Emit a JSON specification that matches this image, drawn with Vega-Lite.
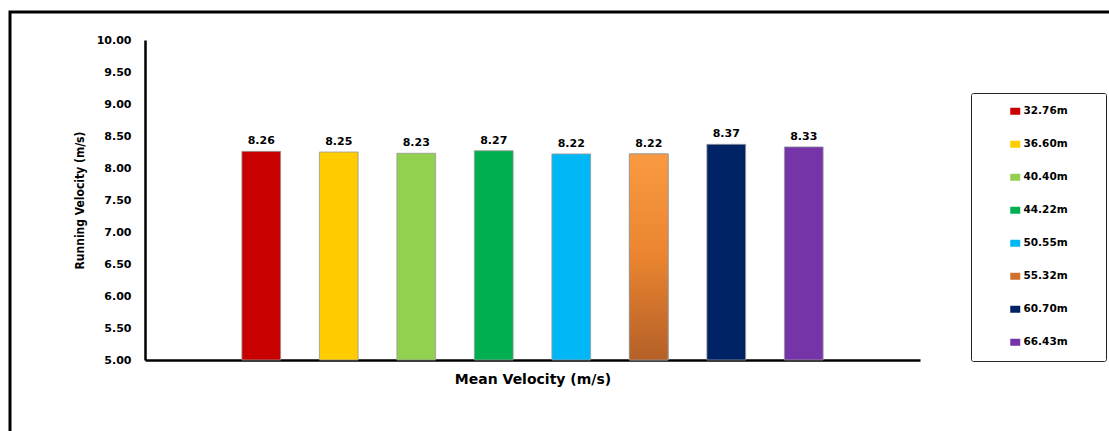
{
  "$schema": "https://vega.github.io/schema/vega-lite/v6.json",
  "width": 1105,
  "height": 425,
  "autosize": {"type": "none"},
  "padding": {"left": 10, "top": 12, "right": -6, "bottom": -6},
  "background": "white",
  "config": {
    "view": {"stroke": "black", "strokeWidth": 3},
    "font": "DejaVu Sans"
  },
  "data": {
    "values": [
      {"series": "32.76m", "velocity": 8.26},
      {"series": "36.60m", "velocity": 8.25},
      {"series": "40.40m", "velocity": 8.23},
      {"series": "44.22m", "velocity": 8.27},
      {"series": "50.55m", "velocity": 8.22},
      {"series": "55.32m", "velocity": 8.22},
      {"series": "60.70m", "velocity": 8.37},
      {"series": "66.43m", "velocity": 8.33}
    ]
  },
  "encoding": {
    "x": {
      "field": "series",
      "type": "nominal",
      "sort": null,
      "scale": {
        "domain": ["_start", "32.76m", "36.60m", "40.40m", "44.22m", "50.55m", "55.32m", "60.70m", "66.43m", "_end"],
        "range": [135, 910],
        "paddingInner": 0.5,
        "paddingOuter": 0.25
      },
      "axis": {
        "title": "Mean Velocity (m/s)",
        "labels": false,
        "ticks": false,
        "domainColor": "black",
        "domainWidth": 2.5,
        "offset": -77,
        "titleFont": "DejaVu Sans",
        "titleFontSize": 14,
        "titleFontWeight": "bold",
        "titleColor": "black",
        "titlePadding": 12
      }
    },
    "y": {
      "field": "velocity",
      "type": "quantitative",
      "scale": {"domain": [5, 10], "range": [348, 28], "zero": false, "nice": false},
      "axis": {
        "title": "Running Velocity (m/s)",
        "values": [5, 5.5, 6, 6.5, 7, 7.5, 8, 8.5, 9, 9.5, 10],
        "format": ".2f",
        "grid": false,
        "ticks": false,
        "domainColor": "black",
        "domainWidth": 2.5,
        "offset": -135,
        "labelPadding": 14,
        "labelFont": "DejaVu Sans",
        "labelFontSize": 11,
        "labelFontWeight": "bold",
        "labelColor": "black",
        "titleFont": "Liberation Sans Narrow, DejaVu Sans Condensed",
        "titleFontSize": 12,
        "titleFontWeight": "bold",
        "titleColor": "black",
        "titlePadding": 10
      }
    }
  },
  "layer": [
    {
      "mark": {"type": "bar", "stroke": "#999999", "strokeWidth": 1, "strokeOpacity": 0.8},
      "encoding": {
        "y2": {"datum": 5},
        "color": {
          "field": "series",
          "type": "nominal",
          "sort": null,
          "scale": {
            "domain": ["32.76m", "36.60m", "40.40m", "44.22m", "50.55m", "55.32m", "60.70m", "66.43m"],
            "range": ["#C80000", "#FFCC00", "#92D050", "#00B050", "#00B8F5", "#D0722C", "#002366", "#7535A8"]
          },
          "legend": {
            "title": null,
            "orient": "none",
            "legendX": 961,
            "legendY": 81,
            "padding": 13,
            "symbolOffset": 26,
            "symbolType": "M-1,-0.7H1V0.7H-1Z",
            "symbolSize": 100,
            "symbolStrokeWidth": 0,
            "symbolOpacity": 1,
            "labelOffset": 3,
            "labelFont": "DejaVu Sans",
            "labelFontSize": 10.5,
            "labelFontWeight": "bold",
            "labelColor": "black",
            "rowPadding": 22,
            "strokeColor": "#222222",
            "fillColor": "white",
            "cornerRadius": 2,
            "labelExpr": "datum.label + '\u2800\u2800\u2800'",
            "encode": {"legend": {"update": {"strokeWidth": {"value": 3}}}}
          }
        }
      }
    },
    {
      "transform": [{"filter": "datum.series === '55.32m'"}],
      "mark": {
        "type": "bar",
        "stroke": "#999999",
        "strokeWidth": 1,
        "strokeOpacity": 0.8,
        "color": {
          "gradient": "linear",
          "x1": 0, "y1": 0, "x2": 0, "y2": 1,
          "stops": [
            {"offset": 0, "color": "#FA9A40"},
            {"offset": 0.5, "color": "#EA8430"},
            {"offset": 1, "color": "#B46028"}
          ]
        }
      },
      "encoding": {"y2": {"datum": 5}}
    },
    {
      "mark": {
        "type": "text",
        "dy": -7,
        "baseline": "alphabetic",
        "font": "DejaVu Sans",
        "fontSize": 11,
        "fontWeight": "bold",
        "color": "black"
      },
      "encoding": {"text": {"field": "velocity", "type": "quantitative", "format": ".2f"}}
    }
  ]
}
